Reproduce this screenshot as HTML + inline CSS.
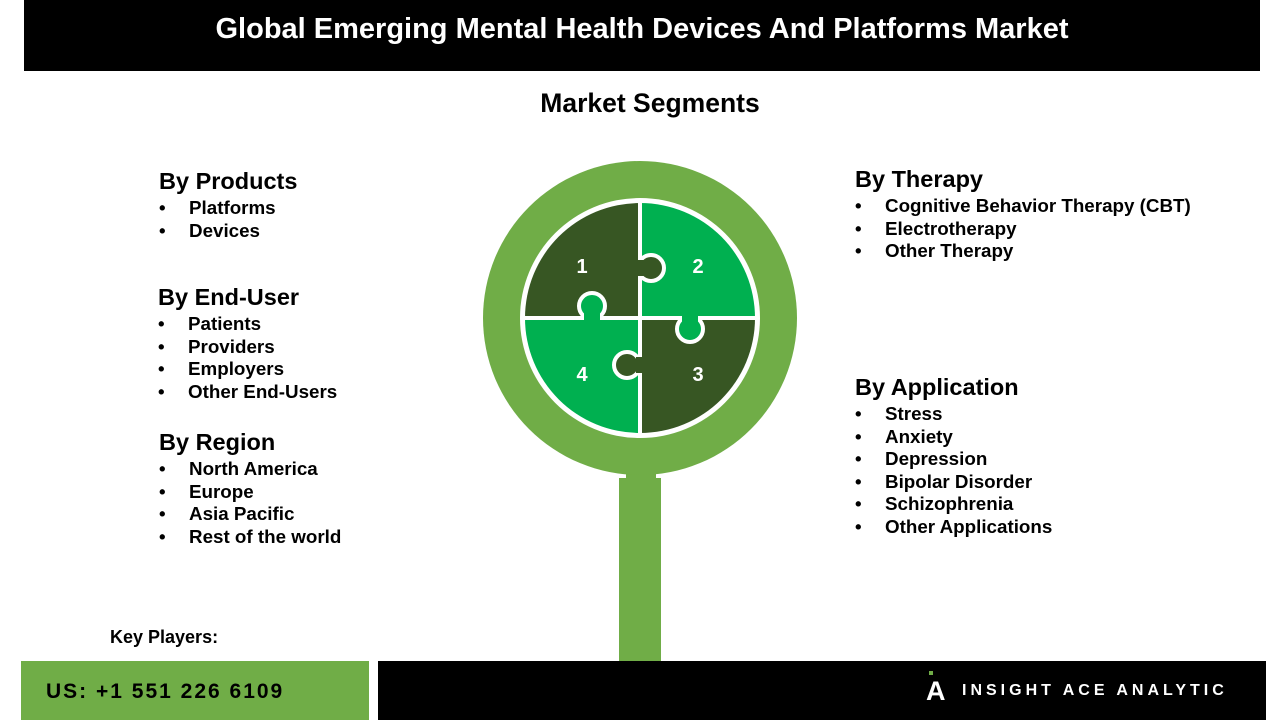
<!DOCTYPE html>
<html><head><meta charset="utf-8"><style>
body{margin:0;width:1280px;height:720px;background:#fff;position:relative;overflow:hidden;font-family:"Liberation Sans",Arial,sans-serif;}
.abs{position:absolute}
.h{font-weight:bold;font-size:23.5px;color:#000;margin-bottom:2px}
ul{list-style:none;margin:0;padding:0}
li{font-weight:bold;font-size:18.8px;line-height:22.5px;position:relative;padding-left:30px}
li:before{content:"•";position:absolute;left:0}
</style></head><body>
<div class="abs" style="left:24px;top:0;width:1236px;height:71px;background:#000;color:#fff;font-weight:bold;font-size:29px;text-align:center;line-height:58px">Global Emerging Mental Health Devices And Platforms Market</div>
<div class="abs" style="left:0;width:1300px;top:88px;text-align:center;font-weight:bold;font-size:26.5px">Market Segments</div>

<div class="abs" style="left:159px;top:168px"><div class="h">By Products</div><ul><li>Platforms</li><li>Devices</li></ul></div>
<div class="abs" style="left:158px;top:284px"><div class="h">By End-User</div><ul><li>Patients</li><li>Providers</li><li>Employers</li><li>Other End-Users</li></ul></div>
<div class="abs" style="left:159px;top:429px"><div class="h">By Region</div><ul><li>North America</li><li>Europe</li><li>Asia Pacific</li><li>Rest of the world</li></ul></div>
<div class="abs" style="left:855px;top:166px"><div class="h">By Therapy</div><ul><li>Cognitive Behavior Therapy (CBT)</li><li>Electrotherapy</li><li>Other Therapy</li></ul></div>
<div class="abs" style="left:855px;top:374px"><div class="h">By Application</div><ul><li>Stress</li><li>Anxiety</li><li>Depression</li><li>Bipolar Disorder</li><li>Schizophrenia</li><li>Other Applications</li></ul></div>

<svg class="abs" style="left:0;top:0" width="1280" height="720">
<rect x="626" y="460" width="30" height="22" fill="#70ad47"/>
<rect x="619" y="478" width="42" height="184" fill="#70ad47"/>
<circle cx="640" cy="318" r="157" fill="#70ad47"/>
<circle cx="640" cy="318" r="120" fill="#fff"/>
<path d="M640 318 L640 203 A115 115 0 0 0 525 318 Z" fill="#375623"/>
<path d="M640 318 L755 318 A115 115 0 0 0 640 203 Z" fill="#00b050"/>
<path d="M640 318 L640 433 A115 115 0 0 0 755 318 Z" fill="#375623"/>
<path d="M640 318 L525 318 A115 115 0 0 0 640 433 Z" fill="#00b050"/>
<line x1="640" y1="200" x2="640" y2="436" stroke="#fff" stroke-width="4"/>
<line x1="522" y1="318" x2="758" y2="318" stroke="#fff" stroke-width="4"/>
<circle cx="651" cy="268" r="13" fill="#375623" stroke="#fff" stroke-width="4"/>
<rect x="634" y="260" width="10" height="16" fill="#375623"/>
<circle cx="592" cy="306" r="13" fill="#00b050" stroke="#fff" stroke-width="4"/>
<rect x="584" y="312" width="16" height="10" fill="#00b050"/>
<circle cx="690" cy="329" r="13" fill="#00b050" stroke="#fff" stroke-width="4"/>
<rect x="682" y="314" width="16" height="10" fill="#00b050"/>
<circle cx="627" cy="365" r="13" fill="#375623" stroke="#fff" stroke-width="4"/>
<rect x="636" y="357" width="10" height="16" fill="#375623"/>
<g fill="#fff" font-family="Liberation Sans" font-weight="bold" font-size="20" text-anchor="middle">
<text x="582" y="273">1</text><text x="698" y="273">2</text><text x="698" y="381">3</text><text x="582" y="381">4</text></g>
</svg>

<div class="abs" style="left:110px;top:627px;font-weight:bold;font-size:18px">Key Players:</div>
<div class="abs" style="left:21px;top:661px;width:348px;height:59px;background:#70ad47;color:#000;font-weight:bold;font-size:21px;letter-spacing:2px;line-height:62px;padding-left:25px;box-sizing:border-box">US: +1 551 226 6109</div>
<div class="abs" style="left:378px;top:661px;width:888px;height:59px;background:#000"></div>
<div class="abs" style="left:929px;top:671px;width:4px;height:4px;background:#70ad47"></div>
<div class="abs" style="left:926px;top:676px;color:#fff;font-weight:bold;font-size:27px">A</div>
<div class="abs" style="left:962px;top:682px;color:#fff;font-size:16px;letter-spacing:4px;font-weight:bold">INSIGHT ACE ANALYTIC</div>
</body></html>
